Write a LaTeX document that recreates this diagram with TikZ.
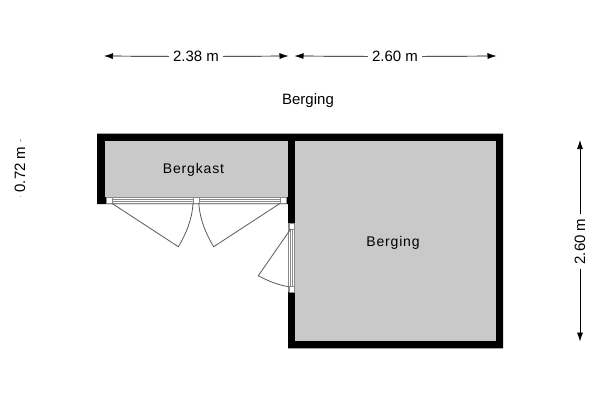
\documentclass[tikz,border=0pt]{standalone}
\usepackage{fontspec}
\usetikzlibrary{arrows.meta}
\setmainfont{Liberation Sans}
\definecolor{roomgray}{HTML}{C9C9C9}
\definecolor{doorgray}{HTML}{8A8A8A}
\begin{document}
\begin{tikzpicture}
		[x=1pt,y=-1pt,
		dimlabel/.style={font=\fontsize{15}{16}\selectfont,inner sep=4pt},
		dimline/.style={-{Latex[length=9pt,width=6pt]},line width=0.7pt},
		roomlabel/.style={font=\fontsize{14}{16}\selectfont\addfontfeatures{LetterSpace=6},inner sep=0pt},
		post/.style={draw=doorgray,fill=white,line width=0.5pt},
		glass/.style={draw=doorgray,line width=0.5pt},
		leaf/.style={draw=black!65,line width=0.8pt}]
		\useasboundingbox (0,0) rectangle (600,400);
		% walls and rooms
		\fill[black] (97,133.5) -- (503,133.5) -- (503,348.3) -- (288,348.3) -- (288,204) -- (97,204) -- cycle;
		\fill[roomgray] (105,141) rectangle (288,197);
		\fill[roomgray] (295,141) rectangle (495.5,341);
		% openings
		\fill[white] (106,197) rectangle (285.7,204);
		\fill[white] (288,223) rectangle (295,292);
		\foreach \y in {197.7,199.4,201.4,203.4}
		{
			\draw[glass] (106,\y) -- (285.7,\y);
		}
		\foreach \x in {288.7,290.6,292.6,294.4}
		{
			\draw[glass] (\x,223) -- (\x,292);
		}
		\foreach \x in {106,193,280}
		{
			\draw[post] (\x,197.6) rectangle ++(5.8,5.8);
		}
		\foreach \y in {223.3,286.7}
		{
			\draw[post] (288.8,\y) rectangle ++(5.5,5.6);
		}
		% door leaves
		\draw[leaf] (112,203.4) -- (178.3,246.7) .. controls (186,234) and (192,220) .. (193,203.4);
		\draw[leaf] (280,203.4) -- (213.7,246.7) .. controls (206,234) and (200,220) .. (198.8,203.4);
		\draw[leaf] (290.7,229) -- (258.3,275.7) .. controls (268,281) and (278,285) .. (289,286.7);
		% room names
		\node[roomlabel,name=bergkast] at (193.5,170) {Bergkast};
		\node[roomlabel,name=berging] at (393,243) {Berging};
		\node[dimlabel,inner sep=0pt,name=title] at (308,100.5) {Berging};
		% dimensions
		\coordinate (a1) at (104,56);
		\coordinate (a2) at (288.5,56);
		\coordinate (b1) at (294.5,56);
		\coordinate (b2) at (496.5,56);
		\coordinate (c1) at (580,140);
		\coordinate (c2) at (580,341.5);
		\coordinate (d1) at (20,139);
		\coordinate (d2) at (20,196);
		\node[dimlabel,name=la] at (196,56.5) {2.38 m};
		\node[dimlabel,name=lb] at (395,56.5) {2.60 m};
		\node[dimlabel,rotate=90,name=lc] at (580,241.5) {2.60 m};
		\node[dimlabel,rotate=90,name=ld] at (20,169.5) {0.72 m};
		\foreach \from/\to in {la/a1,la/a2,lb/b1,lb/b2,lc/c1,lc/c2}
		{
			\draw[dimline] (\from) -- (\to);
		}
		\draw[black!35,line width=0.6pt] (ld) -- (d1);
		\draw[black!35,line width=0.6pt] (ld) -- (d2);
	\end{tikzpicture}
\end{document}
